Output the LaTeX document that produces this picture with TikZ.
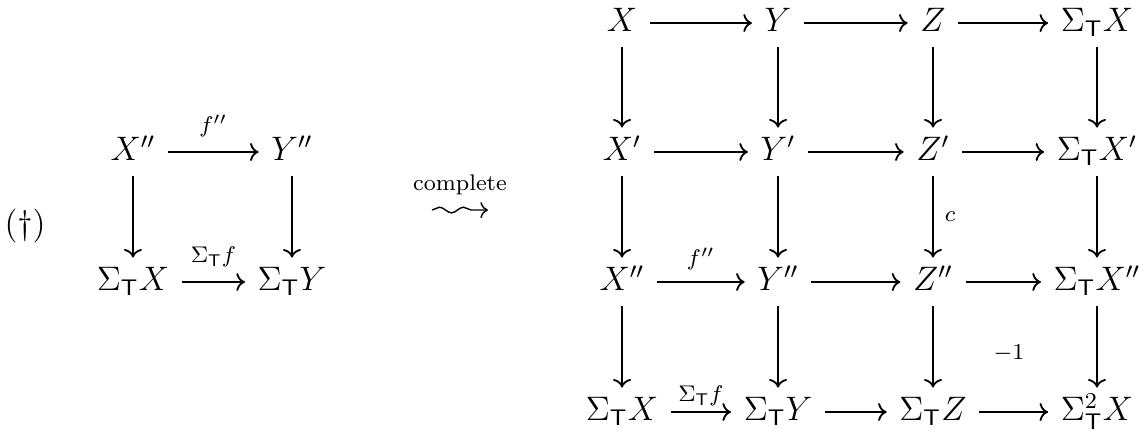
\documentclass[tikz,border=0pt,12pt]{standalone}
\usetikzlibrary{arrows.meta,decorations.pathmorphing}
\newcommand{\SigT}{\Sigma_{\mathsf{T}}}
\begin{document}
\begin{tikzpicture}[
  obj/.style={inner xsep=.36em,inner ysep=.1em,text height=2ex,text depth=.8ex},
  map/.style={-{Computer Modern Rightarrow},line width=.65pt},
  lbl/.style={font=\scriptsize,inner sep=2pt}]
  \useasboundingbox (0,0) rectangle (14.236,-5.366);

  % the square to complete
  \node (tag) at (.311,-2.807) {(\dag)};
  \node[obj] (l1) at (1.652,-1.888) {$X''$};
  \node[obj] (l2) at (3.627,-1.888) {$Y''$};
  \node[obj] (l3) at (1.652,-3.503) {$\SigT X$};
  \node[obj] (l4) at (3.627,-3.503) {$\SigT Y$};
  \draw[map] (l1) -- (l2) node[midway,above=3pt,lbl] (lf) {$f''$};
  \draw[map] (l3) -- (l4) node[midway,above=3pt,lbl] (lsf) {$\SigT f$};
  \draw[map] (l1) -- (l3);
  \draw[map] (l2) -- (l4);

  % squiggly arrow
  \coordinate (sqa) at (5.366,-2.609);
  \coordinate (sqb) at (6.062,-2.609);
  \draw[map,line width=.5pt,decorate,decoration={snake,amplitude=1pt,segment length=8.5pt,post length=2pt}]
    (sqa) -- (sqb) node[midway,above=3pt,lbl] (cpl) {complete};

  % the completed grid
  \node[obj] (a1) at (7.727,-.286) {$X$};
  \node[obj] (a2) at (9.665,-.286) {$Y$};
  \node[obj] (a3) at (11.590,-.286) {$Z$};
  \node[obj] (a4) at (13.627,-.286) {$\SigT X$};
  \node[obj] (b1) at (7.727,-1.888) {$X'$};
  \node[obj] (b2) at (9.665,-1.888) {$Y'$};
  \node[obj] (b3) at (11.590,-1.888) {$Z'$};
  \node[obj] (b4) at (13.627,-1.888) {$\SigT X'$};
  \node[obj] (c1) at (7.727,-3.503) {$X''$};
  \node[obj] (c2) at (9.665,-3.503) {$Y''$};
  \node[obj] (c3) at (11.590,-3.503) {$Z''$};
  \node[obj] (c4) at (13.627,-3.503) {$\SigT X''$};
  \node[obj] (d1) at (7.727,-5.118) {$\SigT X$};
  \node[obj] (d2) at (9.665,-5.118) {$\SigT Y$};
  \node[obj] (d3) at (11.590,-5.118) {$\SigT Z$};
  \node[obj] (d4) at (13.627,-5.118) {$\SigT^2 X$};

  \foreach \r in {a,b,c,d} {
    \foreach \i/\j in {1/2,2/3,3/4} {
      \draw[map] (\r\i) -- (\r\j);
    }
  }
  \foreach \r/\s in {a/b,b/c,c/d} {
    \foreach \i in {1,...,4} {
      \draw[map] (\r\i) -- (\s\i);
    }
  }
  \path (c1) -- (c2) node[midway,above=2pt,lbl] (gf) {$f''$};
  \path (d1) -- (d2) node[midway,above=0pt,lbl] (gsf) {$\SigT f$};
  \path (b3) -- (c3) node[midway,right=2pt,lbl] (gc) {$c$};
  \node[lbl] (sign) at (12.534,-4.385) {$-1$};
\end{tikzpicture}
\end{document}
